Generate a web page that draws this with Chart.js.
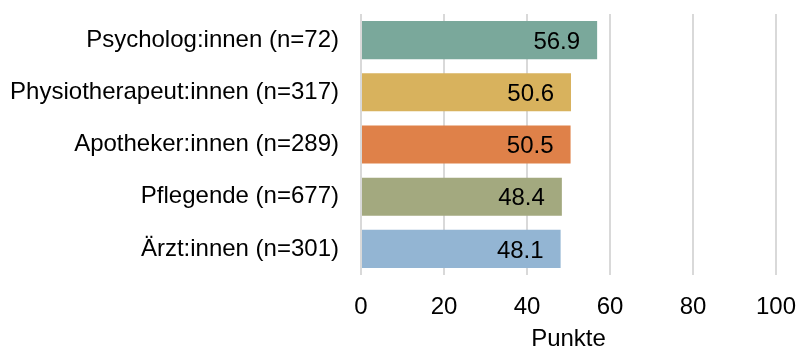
<!DOCTYPE html>
<html>
<head>
<meta charset="utf-8">
<script src="https://cdn.jsdelivr.net/npm/chart.js@4"></script>
<style>
  html, body { margin: 0; padding: 0; background: #fff; }
  #wrap { width: 796px; height: 348px; }
</style>
</head>
<body>
<div id="wrap"><canvas id="scoreChart"></canvas></div>
<script>
// Berufsgruppen und mittlere Punktzahl
const groups = ['Psycholog:innen (n=72)', 'Physiotherapeut:innen (n=317)', 'Apotheker:innen (n=289)', 'Pflegende (n=677)', 'Ärzt:innen (n=301)']
const scores = [56.9, 50.6, 50.5, 48.4, 48.1]
const barColors = ['#7aa89b', '#d8b25d', '#df8149', '#a3a97f', '#93b5d3']
const xTicks = [0, 20, 40, 60, 80, 100]

const FONT = '"Liberation Sans", Arial, sans-serif'

// draws the value inside each bar, near its end
const valueLabels = {
  id: 'valueLabels',
  afterDatasetsDraw(chart) {
    const { ctx } = chart
    ctx.save()
    ctx.font = `24px ${FONT}`
    ctx.fillStyle = '#000'
    ctx.textAlign = 'right'
    ctx.textBaseline = 'middle'
    chart.getDatasetMeta(0).data.forEach((bar, i) => {
      ctx.fillText(scores[i].toFixed(1), bar.x - 17, bar.y + 2)
    })
    ctx.restore()
  },
}

new Chart(document.getElementById('scoreChart'), {
  type: 'bar',
  data: {
    labels: groups,
    datasets: [
      {
        data: scores,
        backgroundColor: barColors,
        borderWidth: 0,
        categoryPercentage: 1,
        barPercentage: 0.73,
      },
    ],
  },
  options: {
    indexAxis: 'y',
    responsive: true,
    maintainAspectRatio: false,
    animation: false,
    layout: { padding: { top: 14, left: 0, right: 20, bottom: 0 } },
    plugins: {
      legend: { display: false },
      tooltip: { enabled: false },
    },
    scales: {
      x: {
        min: 0,
        max: 100,
        afterBuildTicks(scale) {
          scale.ticks = xTicks.map((v) => ({ value: v }))
        },
        afterFit(scale) {
          scale.height = 73
          scale.paddingLeft = 0
          scale.paddingRight = 0
        },
        grid: { color: '#d9d9d9', lineWidth: 2, drawTicks: false },
        border: { display: false },
        ticks: { color: '#000', padding: 18, font: { family: FONT, size: 24 } },
        title: {
          display: true,
          text: 'Punkte',
          color: '#000',
          padding: { top: 4, bottom: -6 },
          font: { family: FONT, size: 24 },
        },
      },
      y: {
        afterFit(scale) {
          scale.width = 361
          scale.paddingTop = 0
          scale.paddingBottom = 0
        },
        grid: { display: false, drawTicks: false },
        border: { display: false },
        ticks: { color: '#000', padding: 22, font: { family: FONT, size: 24 } },
      },
    },
  },
  plugins: [valueLabels],
})
</script>
</body>
</html>
